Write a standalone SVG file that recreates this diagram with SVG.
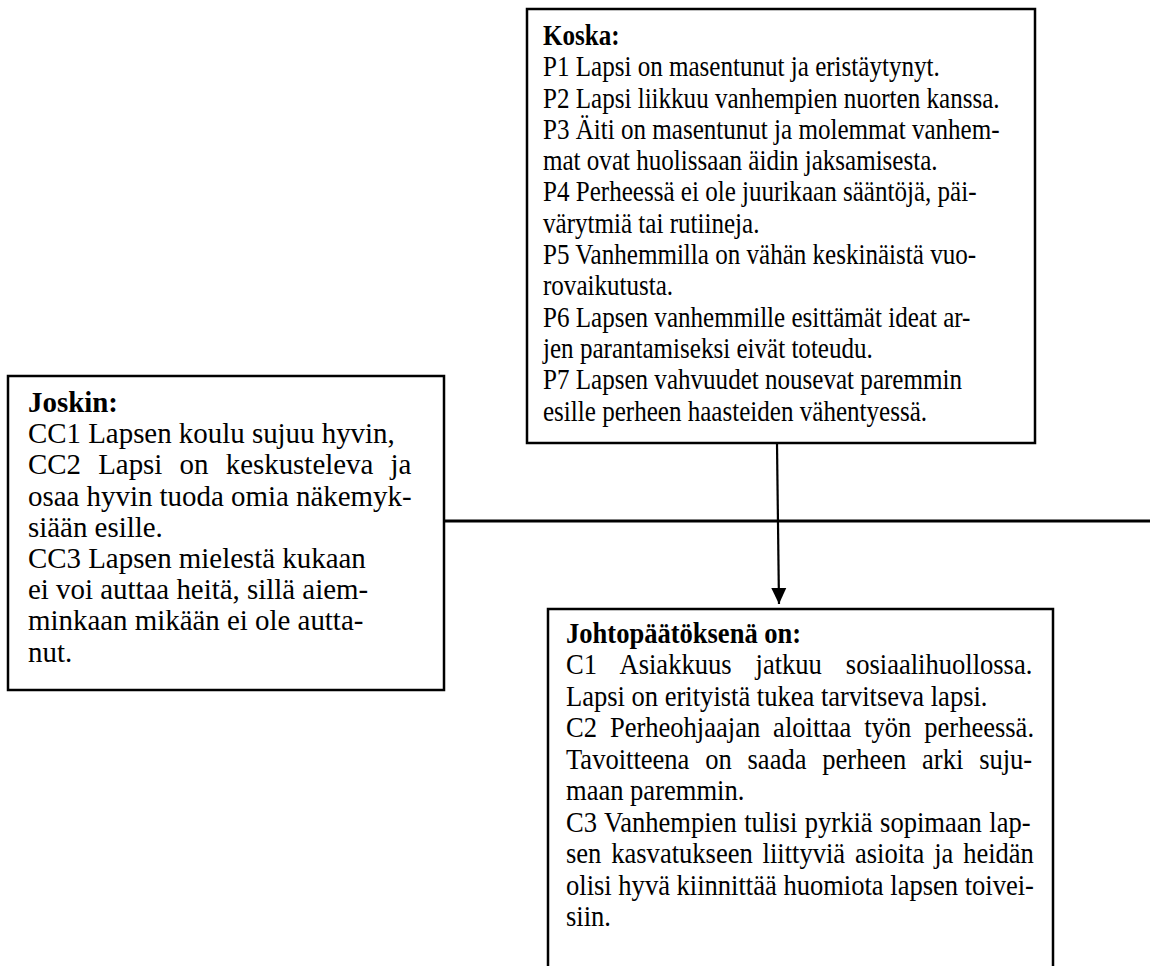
<svg xmlns="http://www.w3.org/2000/svg" width="1150" height="966" viewBox="0 0 1150 966">
  <style>
    .box { fill: #ffffff; stroke: #000000; stroke-width: 2.5; }
    .t { font-family: "Liberation Serif", "Times New Roman", serif; font-size: 29.5px; fill: #000000; }
    .b { font-weight: bold; }
    .conn { stroke: #000000; fill: none; }
  </style>
  <defs>
    <marker id="arrow" markerWidth="16" markerHeight="16" refX="16" refY="8" orient="auto" markerUnits="userSpaceOnUse" viewBox="0 0 16 16">
      <path d="M0,0.5 L16,8 L0,15.5 Z" fill="#000000"/>
    </marker>
  </defs>
  <rect width="1150" height="966" fill="#ffffff"/>

  <g id="connectors">
    <line class="conn" stroke-width="3" x1="444" y1="521" x2="1150" y2="521"/>
    <line class="conn" stroke-width="2.2" x1="777" y1="444" x2="779" y2="604" marker-end="url(#arrow)"/>
  </g>

  <g id="node-koska">
    <rect class="box" x="527" y="9" width="508" height="434"/>
    <g transform="translate(543,0) scale(0.85,1)">
      <text class="t">
        <tspan class="b" x="0" y="45">Koska:</tspan>
        <tspan x="0" y="76.3">P1 Lapsi on masentunut ja eristäytynyt.</tspan>
        <tspan x="0" y="107.6">P2 Lapsi liikkuu vanhempien nuorten kanssa.</tspan>
        <tspan x="0" y="138.9">P3 Äiti on masentunut ja molemmat vanhem-</tspan>
        <tspan x="0" y="170.2">mat ovat huolissaan äidin jaksamisesta.</tspan>
        <tspan x="0" y="201.5">P4 Perheessä ei ole juurikaan sääntöjä, päi-</tspan>
        <tspan x="0" y="232.8">värytmiä tai rutiineja.</tspan>
        <tspan x="0" y="264.1">P5 Vanhemmilla on vähän keskinäistä vuo-</tspan>
        <tspan x="0" y="295.4">rovaikutusta.</tspan>
        <tspan x="0" y="326.7">P6 Lapsen vanhemmille esittämät ideat ar-</tspan>
        <tspan x="0" y="358">jen parantamiseksi eivät toteudu.</tspan>
        <tspan x="0" y="389.3">P7 Lapsen vahvuudet nousevat paremmin</tspan>
        <tspan x="0" y="420.6">esille perheen haasteiden vähentyessä.</tspan>
      </text>
    </g>
  </g>

  <g id="node-joskin">
    <rect class="box" x="8" y="376" width="436" height="314"/>
    <g transform="translate(28,0) scale(0.98,1)">
      <text class="t">
        <tspan class="b" x="0" y="412">Joskin:</tspan>
        <tspan x="0" y="443.2">CC1 Lapsen koulu sujuu hyvin,</tspan>
        <tspan x="0" y="474.4" style="word-spacing:10.2px">CC2 Lapsi on keskusteleva ja</tspan>
        <tspan x="0" y="505.6">osaa hyvin tuoda omia näkemyk-</tspan>
        <tspan x="0" y="536.8">siään esille.</tspan>
        <tspan x="0" y="568">CC3 Lapsen mielestä kukaan</tspan>
        <tspan x="0" y="599.2">ei voi auttaa heitä, sillä aiem-</tspan>
        <tspan x="0" y="630.4">minkaan mikään ei ole autta-</tspan>
        <tspan x="0" y="661.6">nut.</tspan>
      </text>
    </g>
  </g>

  <g id="node-johto">
    <rect class="box" x="548" y="609" width="505" height="380"/>
    <g transform="translate(566,0) scale(0.9,1)">
      <text class="t">
        <tspan class="b" x="0" y="643">Johtopäätöksenä on:</tspan>
        <tspan x="0" y="674.5" style="word-spacing:19.3px">C1 Asiakkuus jatkuu sosiaalihuollossa.</tspan>
        <tspan x="0" y="706">Lapsi on erityistä tukea tarvitseva lapsi.</tspan>
        <tspan x="0" y="737.5" style="word-spacing:7px">C2 Perheohjaajan aloittaa työn perheessä.</tspan>
        <tspan x="0" y="769" style="word-spacing:10.2px">Tavoitteena on saada perheen arki suju-</tspan>
        <tspan x="0" y="800.5">maan paremmin.</tspan>
        <tspan x="0" y="832" style="word-spacing:1px">C3 Vanhempien tulisi pyrkiä sopimaan lap-</tspan>
        <tspan x="0" y="863.5" style="word-spacing:3.6px">sen kasvatukseen liittyviä asioita ja heidän</tspan>
        <tspan x="0" y="895">olisi hyvä kiinnittää huomiota lapsen toivei-</tspan>
        <tspan x="0" y="926.5">siin.</tspan>
      </text>
    </g>
  </g>
</svg>
